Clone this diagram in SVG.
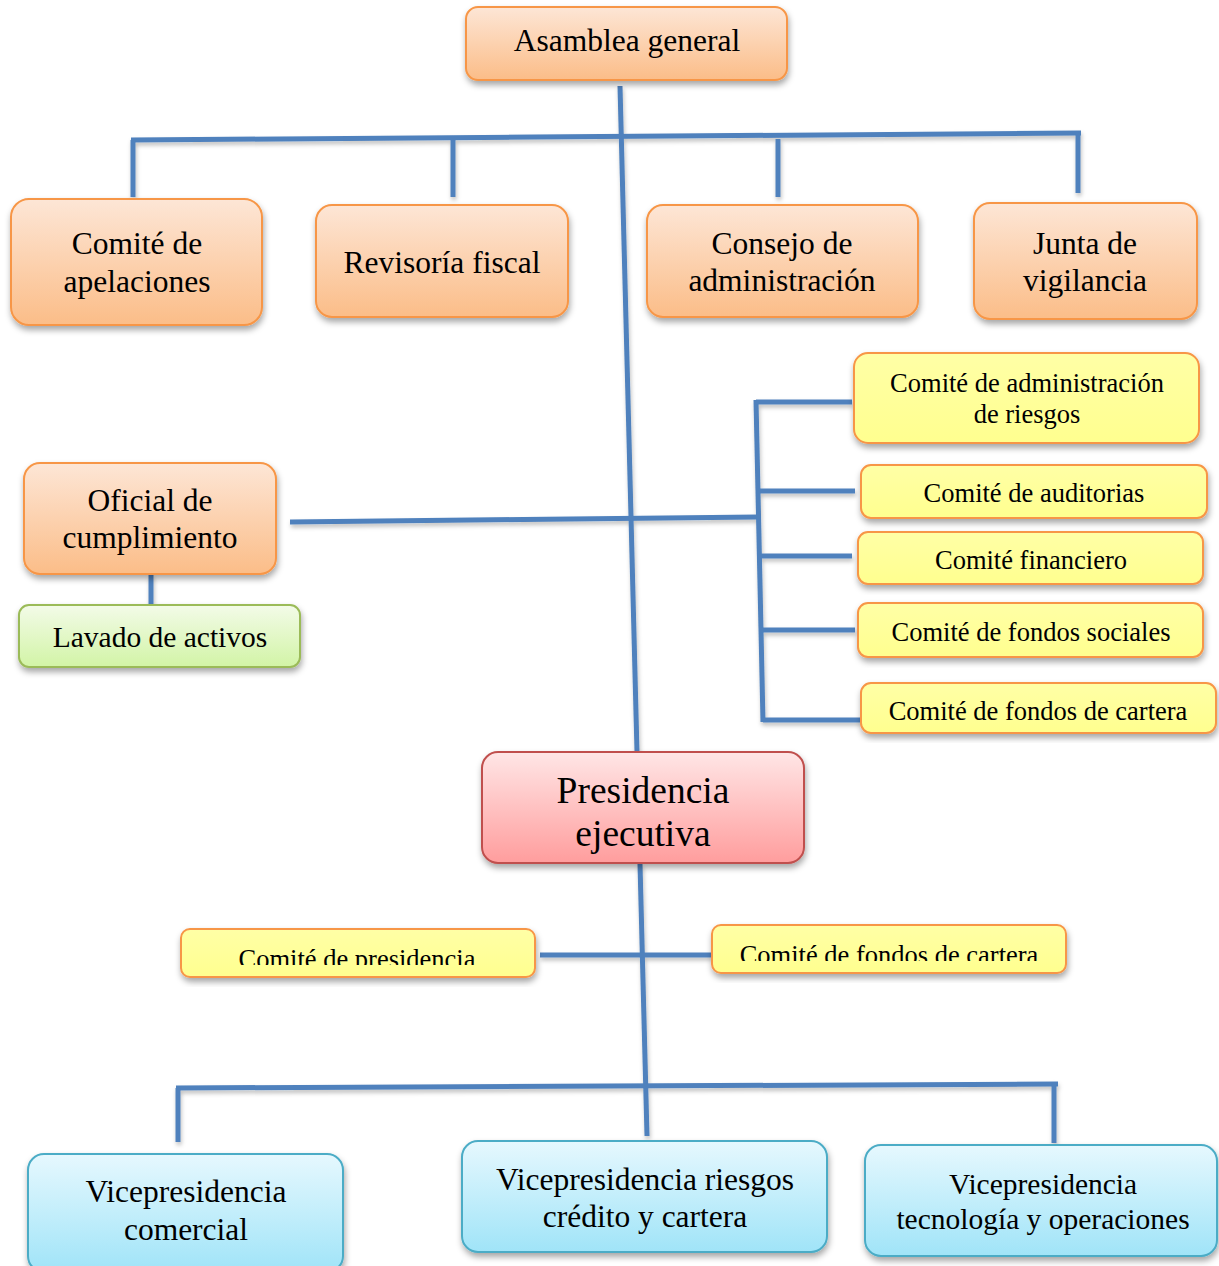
<svg xmlns="http://www.w3.org/2000/svg" width="1219" height="1266" viewBox="0 0 1219 1266">
<defs>
<linearGradient id="gO" x1="0" y1="0" x2="0" y2="1"><stop offset="0" stop-color="#fde6d6"/><stop offset="1" stop-color="#fbbd88"/></linearGradient>
<linearGradient id="gY" x1="0" y1="0" x2="0" y2="1"><stop offset="0" stop-color="#ffffa6"/><stop offset="1" stop-color="#ffff8f"/></linearGradient>
<linearGradient id="gG" x1="0" y1="0" x2="0" y2="1"><stop offset="0" stop-color="#f3fbe8"/><stop offset="1" stop-color="#d2f4a6"/></linearGradient>
<linearGradient id="gR" x1="0" y1="0" x2="0" y2="1"><stop offset="0" stop-color="#ffe6e6"/><stop offset="1" stop-color="#ff9d9d"/></linearGradient>
<linearGradient id="gB" x1="0" y1="0" x2="0" y2="1"><stop offset="0" stop-color="#e6f8fe"/><stop offset="1" stop-color="#a0e4f8"/></linearGradient>
<filter id="sh" x="-10%" y="-10%" width="120%" height="130%"><feDropShadow dx="1" dy="4" stdDeviation="3" flood-color="#000" flood-opacity="0.35"/></filter>
<filter id="shl" x="-10%" y="-10%" width="120%" height="130%"><feDropShadow dx="1" dy="3" stdDeviation="2" flood-color="#000" flood-opacity="0.25"/></filter>
<clipPath id="cp1"><rect x="181" y="929" width="354" height="36"/></clipPath>
<clipPath id="cp2"><rect x="712" y="925" width="354" height="36"/></clipPath>
</defs>
<style>
.o{fill:url(#gO);stroke:#f79646;stroke-width:2}
.y{fill:url(#gY);stroke:#f79646;stroke-width:2}
.g{fill:url(#gG);stroke:#9bbb59;stroke-width:2}
.r{fill:url(#gR);stroke:#c0504d;stroke-width:2}
.b{fill:url(#gB);stroke:#4bacc6;stroke-width:2}
text{font-family:"Liberation Serif","Times New Roman",serif;fill:#000;text-anchor:middle}
.t28{font-size:31.5px}
.t22{font-size:26.5px}
.t34{font-size:37.5px}
.c{fill:none;stroke:#4f81bd;stroke-width:5}
</style>
<g id="connectors" filter="url(#shl)">
<line class="c" x1="620" y1="86" x2="637" y2="752"/>
<line class="c" x1="131" y1="140" x2="1081" y2="133"/>
<line class="c" x1="133" y1="140" x2="133" y2="197"/>
<line class="c" x1="453" y1="140" x2="453" y2="197"/>
<line class="c" x1="778" y1="139" x2="778" y2="197"/>
<line class="c" x1="1078" y1="133" x2="1078" y2="193"/>
<line class="c" x1="151" y1="574" x2="151" y2="605"/>
<line class="c" x1="290" y1="522" x2="758" y2="517"/>
<line class="c" x1="756" y1="400" x2="763" y2="722"/>
<line class="c" x1="756" y1="402" x2="852" y2="402"/>
<line class="c" x1="760" y1="491" x2="855" y2="491"/>
<line class="c" x1="760" y1="556" x2="852" y2="556"/>
<line class="c" x1="761" y1="630" x2="855" y2="630"/>
<line class="c" x1="763" y1="720" x2="861" y2="720"/>
<line class="c" x1="640" y1="864" x2="647" y2="1136"/>
<line class="c" x1="540" y1="955" x2="712" y2="955"/>
<line class="c" x1="176" y1="1088" x2="1058" y2="1084"/>
<line class="c" x1="178" y1="1088" x2="178" y2="1142"/>
<line class="c" x1="1054" y1="1084" x2="1054" y2="1143"/>
</g>
<g id="n-asamblea"><rect class="o" filter="url(#sh)" x="466" y="7" width="321" height="73" rx="12"/><text class="t28" x="627" y="51">Asamblea general</text></g>
<g id="n-apelaciones"><rect class="o" filter="url(#sh)" x="11" y="199" width="251" height="126" rx="18"/><text class="t28" x="137" y="254">Comité de</text><text class="t28" x="137" y="292">apelaciones</text></g>
<g id="n-revisoria"><rect class="o" filter="url(#sh)" x="316" y="205" width="252" height="112" rx="16"/><text class="t28" x="442" y="273">Revisoría fiscal</text></g>
<g id="n-consejo"><rect class="o" filter="url(#sh)" x="647" y="205" width="271" height="112" rx="16"/><text class="t28" x="782" y="254">Consejo de</text><text class="t28" x="782" y="291">administración</text></g>
<g id="n-junta"><rect class="o" filter="url(#sh)" x="974" y="203" width="223" height="116" rx="16"/><text class="t28" x="1085" y="254">Junta de</text><text class="t28" x="1085" y="291">vigilancia</text></g>
<g id="n-oficial"><rect class="o" filter="url(#sh)" x="24" y="463" width="252" height="111" rx="16"/><text class="t28" x="150" y="511">Oficial de</text><text class="t28" x="150" y="548">cumplimiento</text></g>
<g id="n-lavado"><rect class="g" filter="url(#sh)" x="19" y="605" width="281" height="62" rx="10"/><text class="t28" x="160" y="647" style="font-size:29.5px">Lavado de activos</text></g>
<g id="n-riesgos"><rect class="y" filter="url(#sh)" x="854" y="353" width="345" height="90" rx="14"/><text class="t22" x="1027" y="392">Comité de administración</text><text class="t22" x="1027" y="423">de riesgos</text></g>
<g id="n-auditorias"><rect class="y" filter="url(#sh)" x="861" y="465" width="346" height="53" rx="10"/><text class="t22" x="1034" y="502">Comité de auditorias</text></g>
<g id="n-financiero"><rect class="y" filter="url(#sh)" x="858" y="532" width="345" height="52" rx="10"/><text class="t22" x="1031" y="569">Comité financiero</text></g>
<g id="n-sociales"><rect class="y" filter="url(#sh)" x="858" y="603" width="345" height="54" rx="10"/><text class="t22" x="1031" y="641">Comité de fondos sociales</text></g>
<g id="n-cartera1"><rect class="y" filter="url(#sh)" x="861" y="683" width="355" height="50" rx="10"/><text class="t22" x="1038" y="720">Comité de fondos de cartera</text></g>
<g id="n-presidencia"><rect class="r" filter="url(#sh)" x="482" y="752" width="322" height="111" rx="16"/><text class="t34" x="643" y="803">Presidencia</text><text class="t34" x="643" y="846">ejecutiva</text></g>
<g id="n-compresidencia"><rect class="y" filter="url(#sh)" x="181" y="929" width="354" height="48" rx="9"/><text class="t22" x="357" y="968" clip-path="url(#cp1)">Comité de presidencia</text></g>
<g id="n-cartera2"><rect class="y" filter="url(#sh)" x="712" y="925" width="354" height="48" rx="9"/><text class="t22" x="889" y="964" clip-path="url(#cp2)">Comité de fondos de cartera</text></g>
<g id="n-vcomercial"><rect class="b" filter="url(#sh)" x="28" y="1154" width="315" height="118" rx="16"/><text class="t28" x="186" y="1202">Vicepresidencia</text><text class="t28" x="186" y="1240">comercial</text></g>
<g id="n-vriesgos"><rect class="b" filter="url(#sh)" x="462" y="1141" width="365" height="111" rx="16"/><text class="t28" x="645" y="1190">Vicepresidencia riesgos</text><text class="t28" x="645" y="1227">crédito y cartera</text></g>
<g id="n-vtecnologia"><rect class="b" filter="url(#sh)" x="865" y="1145" width="352" height="111" rx="16"/><text class="t28" x="1043" y="1194" style="font-size:29.5px">Vicepresidencia</text><text class="t28" x="1043" y="1229" style="font-size:29.5px">tecnología y operaciones</text></g>
</svg>
